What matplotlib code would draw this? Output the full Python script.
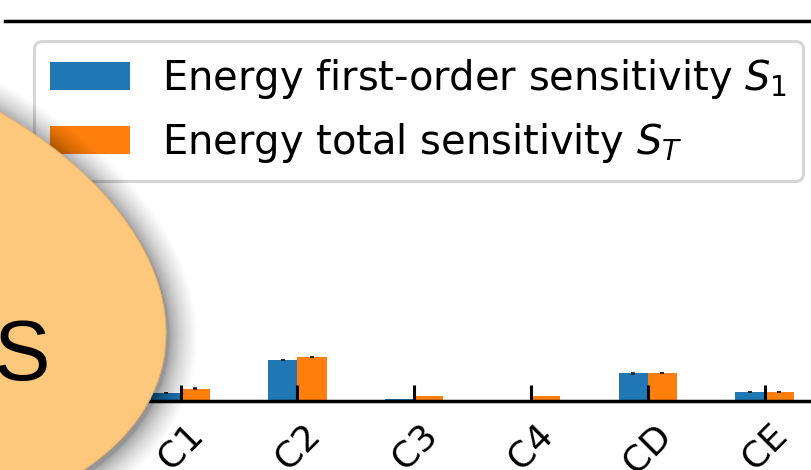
import matplotlib
matplotlib.use('Agg')
import matplotlib.pyplot as plt
import numpy as np
from matplotlib.patches import Ellipse
from matplotlib.transforms import IdentityTransform

# sensitivity values per parameter
categories = ['C0', 'C1', 'C2', 'C3', 'C4', 'CD', 'CE']
s1_values = [0.030, 0.021, 0.108, 0.005, 0.000, 0.073, 0.024]
st_values = [0.035, 0.032, 0.116, 0.013, 0.013, 0.074, 0.024]
s1_err = [0.001, 0.001, 0.001, np.nan, np.nan, 0.001, 0.001]
st_err = [0.001, 0.001, 0.001, np.nan, np.nan, 0.001, 0.001]
labels = ['Energy first-order sensitivity $S_1$', 'Energy total sensitivity $S_T$']

W, H = 811, 470
fig = plt.figure(figsize=(W / 100, H / 100), dpi=100)
ax = fig.add_axes([5.3 / W, 69 / H, (823 - 5.3) / W, 380 / H])

x = np.arange(len(categories))
bw = 0.25
ax.bar(x - bw / 2, s1_values, bw, color='#1f77b4', label=labels[0])
ax.bar(x + bw / 2, st_values, bw, color='#ff7f0e', label=labels[1])
ax.errorbar(x - bw / 2, s1_values, yerr=s1_err, fmt='none', ecolor='#222222',
            capsize=1.6, capthick=1.2, elinewidth=1.2)
ax.errorbar(x + bw / 2, st_values, yerr=st_err, fmt='none', ecolor='#222222',
            capsize=1.6, capthick=1.2, elinewidth=1.2)

ax.set_xlim(-0.5, 6.5)
ax.set_ylim(0, 1)
ax.set_xticks(x)
ax.set_xticklabels(categories)
ax.tick_params(axis='x', direction='in', length=11.5, width=2.2, pad=12,
               labelsize=26, labelrotation=45)
ax.tick_params(axis='y', left=False, labelleft=False)
ax.spines['left'].set_visible(False)
for side in ['top', 'bottom', 'right']:
    ax.spines[side].set_linewidth(2.5)

leg = ax.legend(loc='upper right', fontsize=28.8)
leg.get_frame().set_linewidth(2.2)

# overlay badge with soft shadow, in pixel coordinates
cx, cy = -250, H - 276.6
bw_, bh_, ang = 843.6, 489, -11.7
n_layers = 30
for i in range(n_layers, 0, -1):
    k = 28 * (i / n_layers) ** 2
    fig.add_artist(Ellipse((cx + 3, cy - 4), bw_ + 2 * k, bh_ + 2 * k, angle=ang,
                           facecolor='k', edgecolor='none', alpha=0.016,
                           transform=IdentityTransform(), zorder=10))
fig.add_artist(Ellipse((cx, cy), bw_, bh_, angle=ang, facecolor='#fec87c',
                       edgecolor='#e9b36c', linewidth=0.8,
                       transform=IdentityTransform(), zorder=11))
fig.text(21 / W, 90 / H, 'S', fontsize=61, family='Liberation Sans',
         ha='center', va='baseline', zorder=12)

fig.savefig('out.png')
